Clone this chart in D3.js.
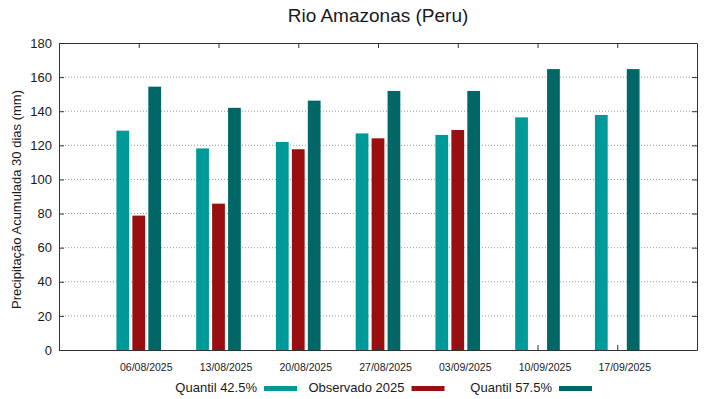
<!DOCTYPE html>
<html>
<head>
<meta charset="utf-8">
<script src="https://cdn.jsdelivr.net/npm/d3@7"></script>
<style>
  body { margin: 0; background: #fff; }
  svg text { font-family: "Liberation Sans", Arial, sans-serif; fill: #1a1a1a; }
</style>
</head>
<body>
<div id="chart"></div>
<script>
// data
const dates = ["06/08/2025", "13/08/2025", "20/08/2025", "27/08/2025", "03/09/2025", "10/09/2025", "17/09/2025"];
const q425 = [128.6, 118.2, 122.0, 127.0, 126.1, 136.4, 137.8];
const obs2025 = [78.8, 85.8, 117.7, 124.1, 129.0, null, null];
const q575 = [154.4, 142.0, 146.2, 151.9, 151.9, 164.7, 164.7];
const seriesNames = ["Quantil 42.5%", "Observado 2025", "Quantil 57.5%"];
const yTicks = [0, 20, 40, 60, 80, 100, 120, 140, 160, 180];

const W = 719, H = 399;
const plot = { left: 59, right: 697, top: 43, bottom: 350 };
const colors = ["#009999", "#990f0f", "#006666"];

const svg = d3.select("#chart").append("svg")
    .attr("width", W)
    .attr("height", H);

// scales: one unit per date, with one empty slot on each side
const x = d3.scaleLinear().domain([-1, dates.length]).range([plot.left, plot.right]);
const y = d3.scaleLinear().domain([0, 180]).range([plot.bottom, plot.top]);

const idx = dates.map((d, i) => i);

// grid lines
svg.append("g")
    .selectAll("line")
    .data(yTicks.filter(v => v > 0 && v < 180))
    .enter()
    .append("line")
    .attr("x1", plot.left)
    .attr("x2", plot.right)
    .attr("y1", d => y(d))
    .attr("y2", d => y(d))
    .style("stroke", "#9a9a9a")
    .style("stroke-width", 1)
    .style("stroke-dasharray", "1,2");

// bars
const series = [q425, obs2025, q575];
const offset = 0.2, barW = 0.16;
series.forEach((vals, s) => {
    const data = vals.map((v, i) => ({ i: i, v: v })).filter(d => d.v != null);
    svg.append("g")
        .selectAll("rect")
        .data(data)
        .enter()
        .append("rect")
        .attr("x", d => x(d.i + (s - 1) * offset - barW / 2))
        .attr("width", d => x(barW) - x(0))
        .attr("y", d => y(d.v))
        .attr("height", d => y(0) - y(d.v))
        .style("fill", colors[s]);
});

// axes (gnuplot style: ticks point inward, mirrored)
const axisColor = "#333";
const tick = 5;

const gBottom = svg.append("g")
    .attr("transform", `translate(0,${plot.bottom})`)
    .call(d3.axisBottom(x).tickValues(idx).tickFormat(i => dates[i]).tickSizeInner(-tick).tickSizeOuter(0));
gBottom.selectAll("text")
    .attr("x", 7)
    .attr("y", 21)
    .attr("dy", 0)
    .style("font-size", "10.5px");

svg.append("g")
    .attr("transform", `translate(0,${plot.top})`)
    .call(d3.axisTop(x).tickValues(idx).tickFormat("").tickSizeInner(-tick).tickSizeOuter(0));

const gLeft = svg.append("g")
    .attr("transform", `translate(${plot.left},0)`)
    .call(d3.axisLeft(y).tickValues(yTicks).tickSizeInner(-tick).tickSizeOuter(0).tickPadding(7));
gLeft.selectAll("text").style("font-size", "13px");

svg.append("g")
    .attr("transform", `translate(${plot.right},0)`)
    .call(d3.axisRight(y).tickValues(yTicks).tickFormat("").tickSizeInner(-tick).tickSizeOuter(0));

svg.selectAll(".domain, .tick line").style("stroke", axisColor);
svg.selectAll(".tick text").style("fill", "#1a1a1a");

// title
svg.append("text")
    .attr("x", (plot.left + plot.right) / 2)
    .attr("y", 22)
    .style("text-anchor", "middle")
    .style("font-size", "19px")
    .text("Rio Amazonas (Peru)");

// y-axis label
svg.append("text")
    .attr("transform", `translate(21,${(plot.top + plot.bottom) / 2 + 3}) rotate(-90)`)
    .style("text-anchor", "middle")
    .style("font-size", "13px")
    .text("Precipitação Acumulada 30 dias (mm)");

// legend
const legend = svg.append("g").attr("transform", "translate(257,0)");
const items = legend.selectAll("g")
    .data(seriesNames)
    .enter()
    .append("g")
    .attr("transform", (d, i) => `translate(${i * 147.5},0)`);

items.append("text")
    .attr("x", 0)
    .attr("y", 392)
    .style("text-anchor", "end")
    .style("font-size", "13px")
    .text(d => d);

items.append("rect")
    .attr("x", 7)
    .attr("y", 386)
    .attr("width", 33)
    .attr("height", 5)
    .style("fill", (d, i) => colors[i]);
</script>
</body>
</html>
